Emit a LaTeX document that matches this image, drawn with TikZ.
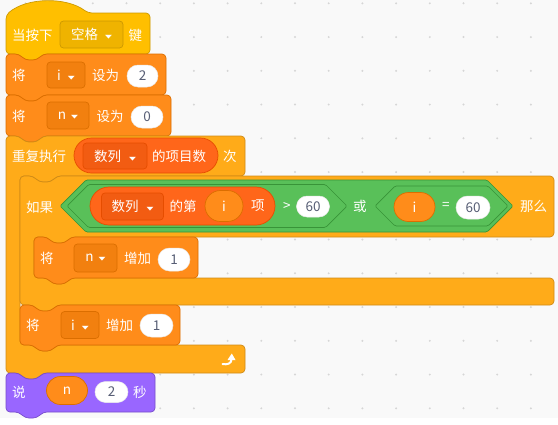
\documentclass[tikz,border=0pt]{standalone}
\usepackage{fontspec}
\setmainfont{Noto Sans CJK SC}
\newfontfamily\symfont{DejaVu Sans}
\usepackage{graphicx}
\usetikzlibrary{arrows.meta,shapes.misc}

\definecolor{bgpane}{HTML}{F9F9F9}
\definecolor{griddot}{HTML}{D6D6D6}
\definecolor{evfill}{HTML}{FFBF00}
\definecolor{evline}{HTML}{CC9900}
\definecolor{evmenu}{HTML}{EFB300}
\definecolor{varfill}{HTML}{FF8C1A}
\definecolor{varline}{HTML}{DB6E00}
\definecolor{varmenu}{HTML}{F2800F}
\definecolor{ctlfill}{HTML}{FFAB19}
\definecolor{ctlline}{HTML}{CF8B17}
\definecolor{listfill}{HTML}{FF661A}
\definecolor{listline}{HTML}{E64D00}
\definecolor{listmenu}{HTML}{F25C12}
\definecolor{opfill}{HTML}{59C059}
\definecolor{opline}{HTML}{389438}
\definecolor{lookfill}{HTML}{9966FF}
\definecolor{lookline}{HTML}{774DCB}
\definecolor{numgray}{HTML}{575E75}

% small dropdown triangle
\newcommand{\ddarrow}{{\symfont\fontsize{9}{9}\selectfont\raisebox{1pt}{\scalebox{1}[0.55]{▼}}}}

% stack block: fill, line, x0, y0, x1, y1 (notch on top, bump below)
\newcommand{\stackblk}[6]{%
  \draw[blk, fill=#1, draw=#2] (#3,#4) -- ({#3+13},#4) -- ({#3+19},{#4+6})
    -- ({#3+31},{#4+6}) -- ({#3+37},#4) -- (#5,#4) -- (#5,#6)
    -- ({#3+37},#6) -- ({#3+31},{#6+6}) -- ({#3+19},{#6+6}) -- ({#3+13},#6)
    -- (#3,#6) -- cycle;}

% C block: fill, line, x0, y0, x1, arm bottom, inner x, lower arm top, y1
\newcommand{\cblk}[9]{%
  \draw[blk, fill=#1, draw=#2] (#3,#4) -- ({#3+13},#4) -- ({#3+19},{#4+6})
    -- ({#3+31},{#4+6}) -- ({#3+37},#4) -- (#5,#4) -- (#5,#6)
    -- ({#7+37},#6) -- ({#7+31},{#6+6}) -- ({#7+19},{#6+6}) -- ({#7+13},#6)
    -- (#7,#6) -- (#7,#8) -- ({#7+13},#8) -- ({#7+19},{#8+6})
    -- ({#7+31},{#8+6}) -- ({#7+37},#8) -- (#5,#8) -- (#5,#9)
    -- ({#3+37},#9) -- ({#3+31},{#9+6}) -- ({#3+19},{#9+6}) -- ({#3+13},#9)
    -- (#3,#9) -- cycle;}

% boolean hexagon: style, left tip, right tip, top, bottom
\newcommand{\boolhex}[5]{%
  \draw[#1] (#2,{(#4+#5)/2}) -- ({#2+(#5-#4)/2},#4) -- ({#3-(#5-#4)/2},#4)
    -- (#3,{(#4+#5)/2}) -- ({#3-(#5-#4)/2},#5) -- ({#2+(#5-#4)/2},#5) -- cycle;}

\begin{document}
\begin{tikzpicture}[
  x=1pt,
  y=-1pt,
  font=\fontsize{13.5}{15}\selectfont,
  blk/.style={line width=0.7pt, rounded corners=4pt, line join=round},
  hexa/.style={fill=opfill, draw=opline, line width=0.7pt, rounded corners=1.5pt, line join=round},
  lbl/.style={anchor=west, text=white, inner sep=0pt},
  menu/.style={rectangle, rounded corners=3.5pt, line width=0.7pt, text=white, inner sep=0pt},
  varmenubox/.style={menu, fill=varmenu, draw=varline},
  numin/.style={rounded rectangle, fill=white, draw=black!8, line width=0.5pt,
    text=numgray, inner sep=0pt},
  varrep/.style={rounded rectangle, fill=varfill, draw=varline, line width=0.7pt,
    text=white, inner sep=0pt},
  listrep/.style={rounded rectangle, fill=listfill, draw=listline, line width=0.7pt,
    inner sep=0pt}
]

\useasboundingbox (0,0) rectangle (558,424);
\fill[white] (0,0) rectangle (558,424);
\fill[bgpane] (0,0) rectangle (558,418);
\foreach \gx in {0,...,15}
  \foreach \gy in {0,...,12}
    \fill[griddot] ({25.4+33.7*\gx},{3.3+33.75*\gy}) circle (1.1);

% hat block
\draw[blk, fill=evfill, draw=evline] (6,15) .. controls (27,-3) and (67,-3) .. (88,13)
  -- (150,13) -- (150,54) -- (43,54) -- (37,60) -- (25,60) -- (19,54) -- (6,54) -- cycle;
\node[lbl] (whenkey) at (12,35) {当按下};
\node[menu, fill=evmenu, draw=evline, minimum width=63pt, minimum height=27pt]
  (keymenu) at (91.5,34.5) {空格\hspace{7pt}\ddarrow};
\node[lbl] (keyword) at (128.5,35) {键};

% set i / set n
\stackblk{varfill}{varline}{6}{54}{166}{95}
\node[lbl] (seti) at (12,75) {将};
\node[varmenubox, minimum width=38pt, minimum height=26pt] (setimenu) at (66,75)
  {i\hspace{7pt}\ddarrow};
\node[lbl] (setito) at (92,75) {设为};
\node[numin, minimum width=31pt, minimum height=22pt] (setival) at (142.5,76) {2};

\stackblk{varfill}{varline}{6}{95}{171}{136}
\node[lbl] (setn) at (12,116) {将};
\node[varmenubox, minimum width=42pt, minimum height=27pt] (setnmenu) at (68,115.5)
  {n\hspace{5pt}\ddarrow};
\node[lbl] (setnto) at (96.5,116) {设为};
\node[numin, minimum width=32pt, minimum height=22pt] (setnval) at (147,117) {0};

% repeat and if
\cblk{ctlfill}{ctlline}{6}{136}{245}{176}{20}{345}{373}
\node[lbl] (rep) at (12,156) {重复执行};
\node[listrep, minimum width=144pt, minimum height=35pt] (lenrep) at (146,155.5) {};
\node[menu, fill=listmenu, draw=listline, minimum width=64pt, minimum height=26pt]
  (lenmenu) at (115,156) {数列\hspace{8pt}\ddarrow};
\node[lbl] (lenof) at (152,156) {的项目数};
\node[lbl] (reptimes) at (223,156) {次};

\cblk{ctlfill}{ctlline}{20}{176}{554}{237}{34}{278}{305}
\node[lbl] (ifword) at (26,207) {如果};
\boolhex{hexa}{60}{513}{180}{232}
\boolhex{hexa}{67}{347}{184.5}{227.5}
\boolhex{hexa}{375}{508}{186}{226}

\node[listrep, minimum width=185pt, minimum height=38pt] (itemrep) at (182.5,206) {};
\node[menu, fill=listmenu, draw=listline, minimum width=62pt, minimum height=27pt]
  (itemmenu) at (132.5,206.5) {数列\hspace{8pt}\ddarrow};
\node[lbl] (itemof) at (169.5,206) {的第};
\node[varrep, minimum width=38pt, minimum height=31pt] (itemidx) at (224,206) {i};
\node[lbl] (itemword) at (251,206) {项};
\node[lbl] (gtsign) at (283,206) {>};
\node[numin, minimum width=33pt, minimum height=21pt] (gtval) at (313,206.5) {60};
\node[lbl] (orword) at (353,206) {或};
\node[varrep, minimum width=41pt, minimum height=29pt] (eqvar) at (414.5,207) {i};
\node[lbl] (eqsign) at (442,206) {=};
\node[numin, minimum width=34pt, minimum height=23pt] (eqval) at (473,207.5) {60};
\node[lbl] (thenword) at (520,206) {那么};

% inner blocks
\stackblk{varfill}{varline}{34}{237}{198}{278}
\node[lbl] (incn) at (40,258) {将};
\node[varmenubox, minimum width=43pt, minimum height=28pt] (incnmenu) at (95.5,258)
  {n\hspace{5pt}\ddarrow};
\node[lbl] (incnby) at (124,258) {增加};
\node[numin, minimum width=32pt, minimum height=23pt] (incnval) at (174,259.5) {1};

\stackblk{varfill}{varline}{20}{305}{180}{345}
\node[lbl] (inci) at (26,325) {将};
\node[varmenubox, minimum width=38pt, minimum height=27pt] (incimenu) at (80,325)
  {i\hspace{7pt}\ddarrow};
\node[lbl] (inciby) at (106,325) {增加};
\node[numin, minimum width=33pt, minimum height=23pt] (incival) at (156.5,325.5) {1};

% loop arrow
\draw[white, line width=2pt, line cap=round]
  (222.5,364) .. controls (227,365) and (231.5,363.5) .. (231.5,359.5);
\fill[white] (227.5,360) -- (235.5,360) -- (231.8,353.5) -- cycle;

% say block
\stackblk{lookfill}{lookline}{6}{373}{155}{412}
\node[lbl] (sayword) at (12,392.5) {说};
\node[varrep, minimum width=41pt, minimum height=28pt] (sayvar) at (67,390.5) {n};
\node[numin, minimum width=33pt, minimum height=21pt] (saysecs) at (111.5,392) {2};
\node[lbl] (secword) at (133,392.5) {秒};

\end{tikzpicture}
\end{document}
